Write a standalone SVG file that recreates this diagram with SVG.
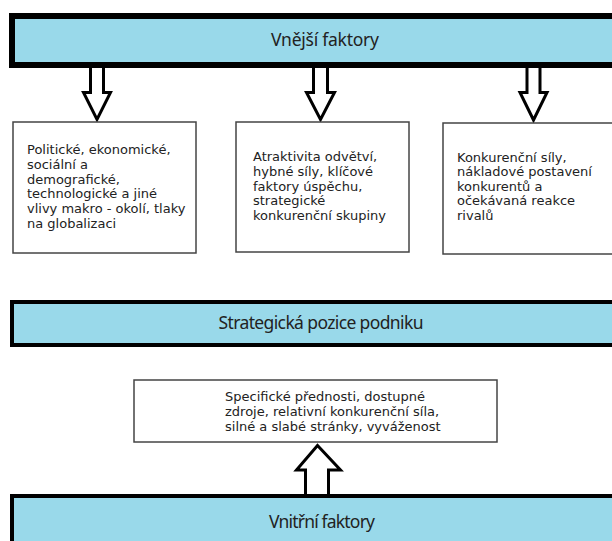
<svg xmlns="http://www.w3.org/2000/svg" width="612" height="541" viewBox="0 0 612 541">
<style>
.bar{fill:#99d9ea;stroke:#000;}
.box{fill:#fff;stroke:#444;stroke-width:1.5;}
.arrow{fill:#fff;stroke:#000;stroke-width:3;stroke-linejoin:miter;}
.bt{font-family:"Noto Sans","Open Sans",sans-serif;font-size:17.5px;fill:#222;text-anchor:middle;}
.tx{font-family:"DejaVu Sans","Verdana",sans-serif;font-size:13px;fill:#222;}
</style>
<rect width="612" height="541" fill="#fff"/>
<g id="connectors">
<polygon class="arrow" points="90.5,60 103.5,60 103.5,92.5 110.5,92.5 97,119.5 83.5,92.5 90.5,92.5"/>
<polygon class="arrow" points="313.5,60 327.5,60 327.5,92.5 334.5,92.5 320.5,119.5 306.5,92.5 313.5,92.5"/>
<polygon class="arrow" points="527,60 540,60 540,92.5 547,92.5 533.5,120 520,92.5 527,92.5"/>
<polygon class="arrow" points="305.5,500 305.5,470 296.5,470 317.5,445.5 340.5,470 328.5,470 328.5,500"/>
</g>
<g id="vnejsi">
<rect class="bar" x="12" y="16" width="660" height="49" stroke-width="6"/>
<text class="bt" x="325" y="46" textLength="108" lengthAdjust="spacing">Vnější faktory</text>
</g>
<g id="box1">
<rect class="box" x="13" y="122" width="183" height="131"/>
<text class="tx" x="27" y="154">Politické, ekonomické,</text>
<text class="tx" x="27" y="169">sociální a</text>
<text class="tx" x="27" y="183.5">demografické,</text>
<text class="tx" x="27" y="198">technologické a jiné</text>
<text class="tx" x="27" y="213">vlivy makro - okolí, tlaky</text>
<text class="tx" x="27" y="228">na globalizaci</text>
</g>
<g id="box2">
<rect class="box" x="236" y="122" width="173" height="130"/>
<text class="tx" x="253" y="161">Atraktivita odvětví,</text>
<text class="tx" x="253" y="176">hybné síly, klíčové</text>
<text class="tx" x="253" y="190.5">faktory úspěchu,</text>
<text class="tx" x="253" y="205">strategické</text>
<text class="tx" x="253" y="220">konkurenční skupiny</text>
</g>
<g id="box3">
<rect class="box" x="443" y="123" width="180" height="131"/>
<text class="tx" x="457" y="162">Konkurenční síly,</text>
<text class="tx" x="457" y="176">nákladové postavení</text>
<text class="tx" x="457" y="190.5">konkurentů a</text>
<text class="tx" x="457" y="205">očekávaná reakce</text>
<text class="tx" x="457" y="219.5">rivalů</text>
</g>
<g id="strategicka">
<rect class="bar" x="12" y="302" width="660" height="43" stroke-width="4"/>
<text class="bt" x="321" y="329" textLength="205" lengthAdjust="spacing">Strategická pozice podniku</text>
</g>
<g id="box4">
<rect class="box" x="134" y="380" width="363" height="62"/>
<text class="tx" x="225" y="401">Specifické přednosti, dostupné</text>
<text class="tx" x="225" y="416">zdroje, relativní konkurenční síla,</text>
<text class="tx" x="225" y="431">silné a slabé stránky, vyváženost</text>
</g>
<g id="vnitrni">
<rect class="bar" x="12" y="496" width="660" height="60" stroke-width="4"/>
<text class="bt" x="322" y="528" textLength="106" lengthAdjust="spacing">Vnitřní faktory</text>
</g>
</svg>
